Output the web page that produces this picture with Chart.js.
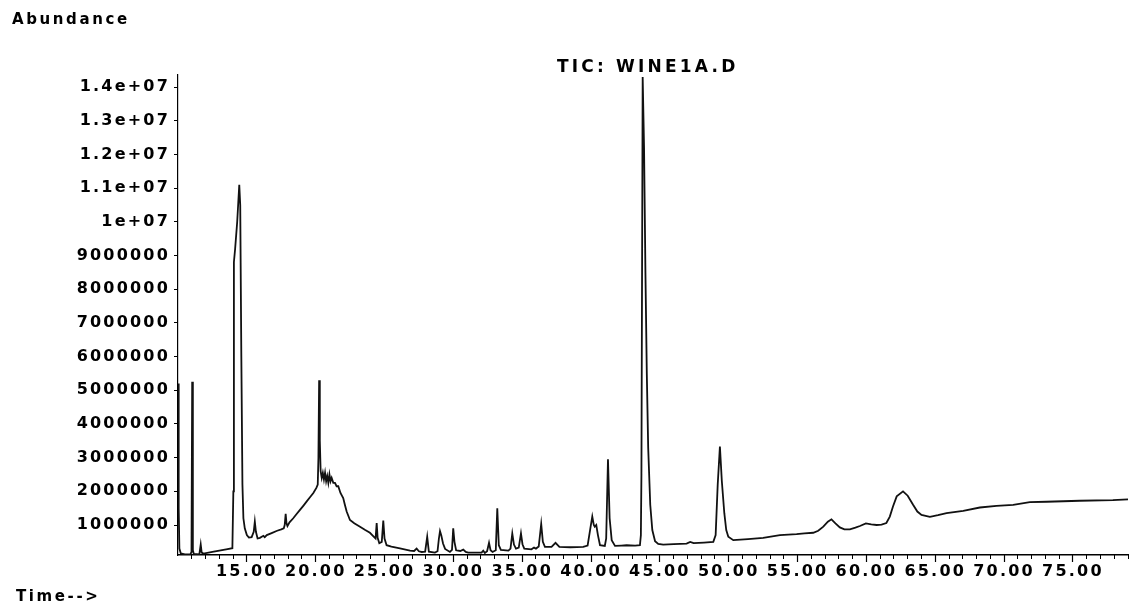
<!DOCTYPE html>
<html><head><meta charset="utf-8">
<script src="https://cdn.jsdelivr.net/npm/chart.js@4.4.0/dist/chart.umd.min.js"></script>
<style>html,body{margin:0;padding:0;background:#fff;}canvas{display:block;}</style>
</head><body>
<canvas id="c" width="1130" height="604"></canvas>
<script>
// Retention time (min)
const times = [
10.00,10.05,10.10,10.20,10.50,10.90,10.98,11.03,11.08,11.15,11.55,11.65,11.72,11.85,12.50,13.00,13.50,13.95,
14.02,14.06,14.15,14.30,14.45,14.52,14.60,14.68,14.75,14.85,15.00,15.15,15.35,15.50,15.58,15.66,15.78,15.95,
16.20,16.30,16.45,16.80,17.20,17.50,17.68,17.75,17.82,17.88,17.95,18.10,18.37,18.60,18.86,19.10,19.35,19.60,
19.83,20.05,20.15,20.20,20.25,20.30,20.36,20.44,20.52,20.60,20.68,20.76,20.84,20.92,21.00,21.08,21.16,21.28,
21.40,21.52,21.64,21.80,22.00,22.12,22.25,22.49,22.80,23.22,23.60,23.94,24.25,24.35,24.43,24.50,24.62,24.80,
24.91,25.00,25.15,25.50,26.12,26.85,27.15,27.33,27.50,27.70,27.95,28.10,28.22,28.66,28.85,28.95,29.03,29.12,
29.25,29.40,29.75,29.90,29.99,30.08,30.20,30.50,30.72,30.90,31.08,32.05,32.17,32.29,32.45,32.59,32.70,32.85,
33.08,33.19,33.30,33.45,34.00,34.15,34.28,34.40,34.55,34.75,34.91,35.02,35.15,35.67,35.86,36.00,36.20,36.38,
36.50,36.65,37.13,37.42,37.70,38.50,39.43,39.75,39.95,40.09,40.20,40.27,40.38,40.50,40.65,41.00,41.10,41.23,
41.35,41.50,41.74,42.20,42.58,43.20,43.55,43.62,43.66,43.75,43.85,43.95,44.05,44.15,44.30,44.45,44.65,
44.88,45.24,46.00,46.94,47.20,47.45,48.20,48.88,49.05,49.20,49.36,49.50,49.68,49.82,49.97,50.33,51.40,52.50,
53.72,54.93,55.50,56.14,56.50,56.87,57.20,57.46,57.75,58.07,58.40,58.80,59.20,59.53,59.96,60.35,60.74,61.10,
61.45,61.70,61.93,62.20,62.66,63.00,63.39,63.70,64.00,64.61,65.20,65.82,67.03,68.24,69.45,70.66,71.87,73.08,
75.50,77.90,79.00
];
// Abundance (TIC counts)
const abundance = [
5200000,1500000,300000,160000,130000,130000,200000,5250000,250000,140000,130000,420000,180000,150000,200000,240000,280000,310000,
2000000,8800000,9200000,10000000,11100000,10500000,6000000,2200000,1200000,900000,700000,630000,640000,800000,1100000,800000,600000,620000,
680000,640000,700000,760000,830000,870000,900000,1000000,1330000,1050000,970000,1080000,1200000,1320000,1450000,1570000,1700000,1830000,
1950000,2100000,2200000,3000000,5300000,3500000,2600000,2400000,2550000,2350000,2550000,2300000,2450000,2250000,2500000,2300000,2400000,2250000,
2250000,2150000,2150000,1950000,1800000,1600000,1400000,1150000,1050000,950000,850000,770000,640000,600000,1060000,620000,460000,500000,
1130000,600000,400000,360000,310000,240000,230000,300000,220000,200000,210000,650000,210000,180000,220000,600000,820000,700000,
450000,290000,200000,260000,900000,500000,250000,230000,270000,200000,180000,180000,240000,170000,220000,470000,250000,200000,
250000,1500000,400000,260000,240000,300000,750000,420000,300000,330000,750000,430000,300000,280000,330000,300000,360000,1030000,
500000,350000,350000,470000,350000,340000,350000,390000,900000,1250000,1000000,950000,1000000,700000,400000,380000,600000,2950000,
1200000,550000,380000,390000,400000,390000,400000,700000,2500000,14300000,12200000,8500000,5500000,3300000,1600000,850000,520000,
440000,420000,430000,450000,500000,460000,480000,500000,700000,2200000,3330000,2300000,1350000,850000,650000,550000,580000,620000,
700000,730000,750000,770000,830000,950000,1100000,1170000,1050000,930000,870000,870000,920000,970000,1050000,1020000,1000000,1010000,
1060000,1250000,1550000,1850000,2000000,1870000,1600000,1400000,1300000,1240000,1290000,1350000,1420000,1520000,1570000,1600000,1680000,1690000,
1720000,1740000,1760000
];
const xTickValues = [15,20,25,30,35,40,45,50,55,60,65,70,75];
const xTickLabels = ['15.00','20.00','25.00','30.00','35.00','40.00','45.00','50.00','55.00','60.00','65.00','70.00','75.00'];
const yTickValues = [1000000,2000000,3000000,4000000,5000000,6000000,7000000,8000000,9000000,10000000,11000000,12000000,13000000,14000000];
const yTickLabels = ['1000000','2000000','3000000','4000000','5000000','6000000','7000000','8000000','9000000','1e+07','1.1e+07','1.2e+07','1.3e+07','1.4e+07'];
const yAxisTitle = 'Abundance';
const xAxisTitle = 'Time-->';
const chartTitle = 'TIC: WINE1A.D';

const X_MIN = 10, X_MAX = 79, Y_MIN = 110000, Y_MAX = 14357000;
const FONT = {family: "'DejaVu Sans', sans-serif", size: 16, weight: 'bold'};
const TICK_SPACING = '2.2px';

const textPlugin = {
  id: 'texts',
  beforeLayout(chart) { chart.ctx.letterSpacing = TICK_SPACING; },
  beforeDraw(chart) {
    const c = chart.ctx;
    c.save(); c.fillStyle = '#fff'; c.fillRect(0, 0, chart.width, chart.height); c.restore();
    c.letterSpacing = TICK_SPACING;
  },
  afterDraw(chart) {
    const c = chart.ctx;
    c.save();
    c.fillStyle = '#000';
    c.textBaseline = 'middle';
    c.textAlign = 'left';
    c.font = "bold 15px 'DejaVu Sans'";
    c.letterSpacing = '2.6px';
    c.fillText(yAxisTitle, 12, 20);
    c.fillText(xAxisTitle, 16, 597);
    c.font = "bold 17px 'DejaVu Sans'";
    c.letterSpacing = '3.2px';
    c.fillText(chartTitle, 557, 68);
    c.restore();
  }
};

new Chart(document.getElementById('c'), {
  type: 'line',
  data: {
    datasets: [{
      data: times.map((t, i) => ({x: t, y: abundance[i]})),
      borderColor: '#111',
      borderWidth: 1.8,
      pointRadius: 0,
      tension: 0,
      fill: false
    }]
  },
  options: {
    responsive: false,
    animation: false,
    events: [],
    layout: {padding: {top: 75, left: 0, right: 2, bottom: 0}},
    plugins: {legend: {display: false}, tooltip: {enabled: false}, title: {display: false}},
    scales: {
      x: {
        type: 'linear', position: 'bottom', min: X_MIN, max: X_MAX, weight: 1,
        afterBuildTicks: s => { s.ticks = xTickValues.map(v => ({value: v})); },
        afterFit: s => { s.height = 49; },
        ticks: {autoSkip: false, maxRotation: 0, minRotation: 0, padding: 0, color: '#000', font: FONT,
          callback: v => { const i = xTickValues.indexOf(v); return i >= 0 ? xTickLabels[i] : ''; }},
        grid: {drawOnChartArea: false, drawTicks: true, tickLength: 7, color: '#000', tickWidth: 1.2},
        border: {display: true, color: '#000', width: 1.5}
      },
      xMinor: {
        type: 'linear', position: 'bottom', min: X_MIN, max: X_MAX, weight: 0,
        afterBuildTicks: s => { const t = []; for (let v = 11; v <= 79; v++) t.push({value: v}); s.ticks = t; },
        afterFit: s => { s.height = 0; },
        ticks: {display: false},
        grid: {drawOnChartArea: false, drawTicks: true, tickLength: 4, color: '#000', tickWidth: 1},
        border: {display: false}
      },
      y: {
        type: 'linear', position: 'left', min: Y_MIN, max: Y_MAX,
        afterBuildTicks: s => { s.ticks = yTickValues.map(v => ({value: v})); },
        afterFit: s => { s.width = 178; },
        ticks: {autoSkip: false, padding: 4, color: '#000', font: FONT,
          callback: v => { const i = yTickValues.indexOf(v); return i >= 0 ? yTickLabels[i] : ''; }},
        grid: {drawOnChartArea: false, drawTicks: true, tickLength: 4, color: '#000'},
        border: {display: true, color: '#000', width: 1.2}
      }
    }
  },
  plugins: [textPlugin]
});
</script>
</body></html>
